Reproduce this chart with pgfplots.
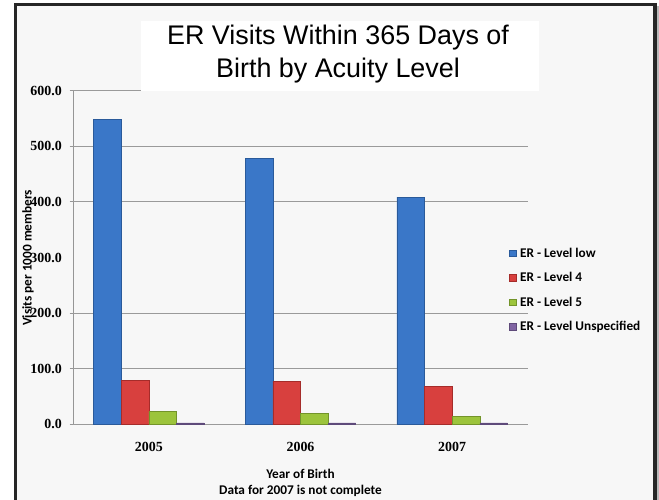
\documentclass[border=0pt]{standalone}
\usepackage{fontspec}
\setmainfont{Carlito}
\newfontfamily\serifnum{Liberation Serif}
\newfontfamily\arialf{Liberation Sans}
\usepackage{pgfplots}
\pgfplotsset{compat=1.18}
\definecolor{bgc}{HTML}{F7F7F7}
\definecolor{framec}{HTML}{262626}
\definecolor{axisc}{HTML}{969696}
\definecolor{gridc}{HTML}{9A9A9A}
\definecolor{blueC}{HTML}{3A77C8}
\definecolor{blueD}{HTML}{2A5A9A}
\definecolor{redC}{HTML}{D8403E}
\definecolor{redD}{HTML}{A52C2A}
\definecolor{greenC}{HTML}{9CC43C}
\definecolor{greenD}{HTML}{73942A}
\definecolor{purpleC}{HTML}{8064A2}
\definecolor{purpleD}{HTML}{5E4A7A}
\begin{document}
\begin{tikzpicture}[x=1bp,y=1bp]
\useasboundingbox (0,0) rectangle (659,500);
\fill[white] (0,0) rectangle (659,500);
\fill[bgc] (14,0) rectangle (657,497);
\begin{axis}[
  at={(73bp,75.7bp)}, anchor=south west,
  scale only axis, width=455bp, height=333.6bp,
  xmin=-0.5, xmax=2.5, ymin=0, ymax=600,
  axis x line*=bottom, axis y line*=left,
  axis line style={draw=axisc, line width=0.8bp, -},
  ybar=0pt, bar width=27.6bp,
  xtick={0,1,2}, xticklabels={2005,2006,2007},
  xtick style={draw=none},
  xticklabel style={font=\serifnum\bfseries\fontsize{14}{14}\selectfont, anchor=north, inner sep=0pt, yshift=-17.4bp},
  ytick={0,100,...,600},
  major tick length=0pt,
  yticklabel style={font=\serifnum\bfseries\fontsize{14}{14}\selectfont, anchor=east, inner sep=0pt, xshift=-11bp},
  /pgf/number format/.cd, fixed, fixed zerofill, precision=1, assume math mode=true, /pgfplots/.cd,
  extra y ticks={0,100,200,400,500,600},
  extra y tick labels={,,,,,},
  extra y tick style={grid=major, major grid style={draw=gridc, line width=0.8bp},
     major tick length=3.5bp, tick align=outside, tick style={draw=axisc, line width=0.8bp}},
  ylabel={Visits per 1000 members},
  ylabel style={at={(axis description cs:-0.099,0.4985)}, anchor=center, inner sep=0pt, font=\bfseries\fontsize{13.33}{14}\selectfont},
  xlabel={Year of Birth\\Data for 2007 is not complete},
  xlabel style={at={(axis description cs:0.5,-0.1325)}, anchor=north, align=center, inner sep=0pt, font=\bfseries\fontsize{13.33}{16.5}\selectfont},
  legend image code/.code={\fill[#1] (0bp,0.8bp) rectangle (6.6bp,7.4bp);},
  legend style={at={(axis description cs:0.9582,0.5276)}, anchor=north west, draw=none, fill=none,
     inner sep=0pt, outer sep=0pt, row sep=13bp, column sep=4bp,
     nodes={inner sep=0pt, text height=9bp, text depth=2.5bp, font=\bfseries\fontsize{13.33}{14}\selectfont},
     cells={anchor=base west}},
]
\addplot[fill=blueC, draw=blueD, line width=0.5bp] coordinates {(0,549) (1,478.5) (2,408.5)};
\addplot[fill=redC, draw=redD, line width=0.5bp] coordinates {(0,78.5) (1,76.8) (2,67.6)};
\addplot[fill=greenC, draw=greenD, line width=0.5bp] coordinates {(0,22.7) (1,19.8) (2,13.7)};
\addplot[fill=purpleC, draw=purpleD, line width=0.5bp] coordinates {(0,2.5) (1,2.5) (2,2.5)};
\legend{ER - Level low, ER - Level 4, ER - Level 5, ER - Level Unspecified}
\end{axis}
\fill[white] (141,409) rectangle (539,479.3);
\node[font=\arialf\fontsize{27}{31}\selectfont, anchor=base, inner sep=0pt] at (338,455) {ER Visits Within 365 Days of};
\node[font=\arialf\fontsize{27}{31}\selectfont, anchor=base, inner sep=0pt] at (338,422) {Birth by Acuity Level};
\draw[framec, line width=3bp] (15.5,0) -- (15.5,495.5) -- (655,495.5);
\draw[framec, line width=4bp] (655,497) -- (655,0);
\fill[gray!55] (657,0) rectangle (659,494);
\end{tikzpicture}
\end{document}
